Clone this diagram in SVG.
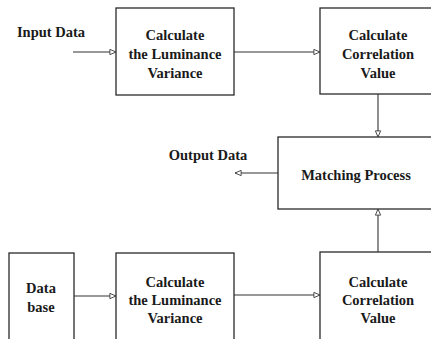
<svg xmlns="http://www.w3.org/2000/svg" width="431" height="339" viewBox="0 0 431 339">
  <style>
    .box { fill: #ffffff; stroke: #2a2a2a; stroke-width: 1.3; }
    .lbl { font-weight: bold; font-size: 14.5px; fill: #1a1a1a; text-anchor: middle; }
    .edge { fill: none; stroke: #333333; stroke-width: 1.1; }
  </style>
  <defs>
    <marker id="arrow" viewBox="0 0 8 8" refX="7.5" refY="4" markerWidth="7" markerHeight="7" markerUnits="userSpaceOnUse" orient="auto">
      <path d="M0.5,1 L7.5,4 L0.5,7 Z" fill="#ffffff" stroke="#333333" stroke-width="1"/>
    </marker>
  </defs>
  <rect width="431" height="339" fill="#ffffff"/>

  <g font-family="Liberation Serif">
    <!-- free labels -->
    <g id="input-data">
      <text class="lbl" x="51" y="37">Input Data</text>
    </g>
    <g id="output-data">
      <text class="lbl" x="208" y="160">Output Data</text>
    </g>

    <!-- upper row -->
    <g id="lum-top">
      <rect class="box" x="116" y="8" width="118" height="87"/>
      <text class="lbl" x="175" y="40">Calculate</text>
      <text class="lbl" x="175" y="59">the Luminance</text>
      <text class="lbl" x="175" y="78">Variance</text>
    </g>
    <g id="corr-top">
      <rect class="box" x="320" y="8" width="130" height="86"/>
      <text class="lbl" x="378" y="40">Calculate</text>
      <text class="lbl" x="378" y="59">Correlation</text>
      <text class="lbl" x="378" y="78">Value</text>
    </g>

    <!-- middle -->
    <g id="matching">
      <rect class="box" x="278" y="137" width="170" height="72"/>
      <text class="lbl" x="356" y="180">Matching Process</text>
    </g>

    <!-- lower row -->
    <g id="database">
      <rect class="box" x="9" y="253" width="65" height="95"/>
      <text class="lbl" x="41" y="293">Data</text>
      <text class="lbl" x="41" y="312">base</text>
    </g>
    <g id="lum-bottom">
      <rect class="box" x="116" y="253" width="118" height="95"/>
      <text class="lbl" x="175" y="287">Calculate</text>
      <text class="lbl" x="175" y="305">the Luminance</text>
      <text class="lbl" x="175" y="323">Variance</text>
    </g>
    <g id="corr-bottom">
      <rect class="box" x="320" y="252" width="130" height="96"/>
      <text class="lbl" x="378" y="287">Calculate</text>
      <text class="lbl" x="378" y="305">Correlation</text>
      <text class="lbl" x="378" y="323">Value</text>
    </g>
  </g>

  <!-- connectors -->
  <g id="connectors">
    <path class="edge" d="M73,52 H116" marker-end="url(#arrow)"/>
    <path class="edge" d="M234,52 H320" marker-end="url(#arrow)"/>
    <path class="edge" d="M378,94 V137" marker-end="url(#arrow)"/>
    <path class="edge" d="M278,173 H235" marker-end="url(#arrow)"/>
    <path class="edge" d="M378,252 V209" marker-end="url(#arrow)"/>
    <path class="edge" d="M74,296 H116" marker-end="url(#arrow)"/>
    <path class="edge" d="M234,295 H320" marker-end="url(#arrow)"/>
  </g>
</svg>
